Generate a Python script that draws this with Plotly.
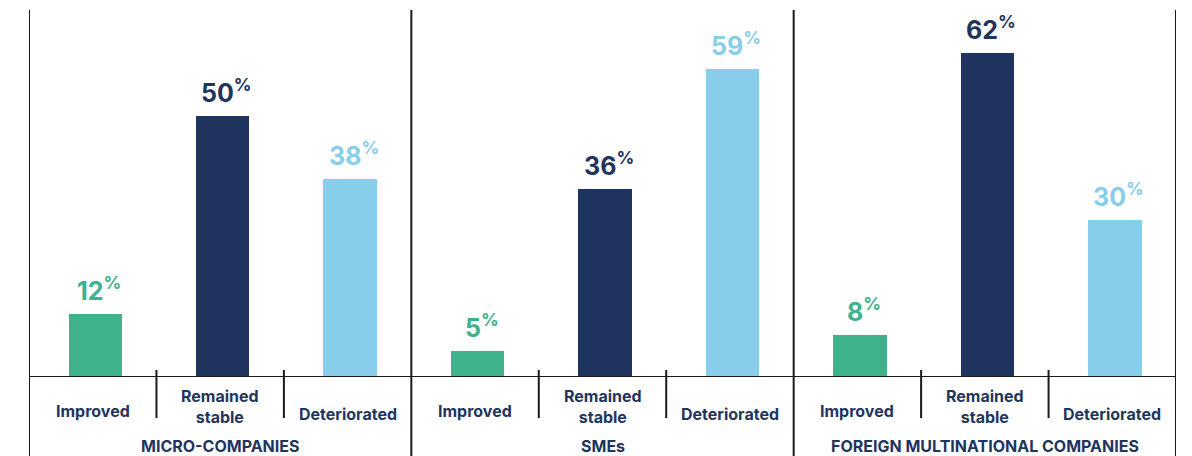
import plotly.graph_objects as go

groups = ["MICRO-COMPANIES", "SMEs", "FOREIGN MULTINATIONAL COMPANIES"]
categories = ["Improved", "Remained<br>stable", "Deteriorated"]
improved = [12, 5, 8]
stable = [50, 36, 62]
deteriorated = [38, 59, 30]

series = [improved, stable, deteriorated]
colors = ["#3db28c", "#1f3560", "#87ceea"]
navy = "#1f3560"
FONT = "Inter, Montserrat, sans-serif"

fig = go.Figure()
for ci, vals in enumerate(series):
    xs = [gi * 3 + ci + 0.52 for gi in range(len(groups))]
    fig.add_trace(go.Bar(x=xs, y=vals, width=0.42, marker=dict(color=colors[ci], line=dict(width=0)),
                         showlegend=False, hoverinfo="skip"))
    for x, v in zip(xs, vals):
        fig.add_annotation(x=x, y=v, xref="x", yref="y",
                           text=f"<b>{v}</b><sup><b>%</b></sup>",
                           showarrow=False, yanchor="bottom", yshift=6, xshift=4,
                           font=dict(family=FONT, size=25, color=colors[ci]))

cat_y = [-0.0926, -0.0817, -0.1008]
for gi, g in enumerate(groups):
    for ci, c in enumerate(categories):
        fig.add_annotation(x=gi * 3 + ci + 0.5, y=cat_y[ci], xref="x", yref="paper", text=f"<b>{c}</b>",
                           showarrow=False, yanchor="middle",
                           font=dict(family=FONT, size=16, color=navy))
    fig.add_annotation(x=gi * 3 + 1.5, y=-0.188, xref="x", yref="paper", text=f"<b>{g}</b>",
                       showarrow=False, yanchor="middle", font=dict(family=FONT, size=16, color=navy))

line_col = "#1a1a1a"
# panel borders
for xv in [0, 3, 6, 9]:
    fig.add_shape(type="line", xref="x", yref="paper", x0=xv, x1=xv, y0=-0.215, y1=1.0,
                  line=dict(color=line_col, width=2))
# inner separators
for xv in [1, 2, 4, 5, 7, 8]:
    fig.add_shape(type="line", xref="x", yref="paper", x0=xv, x1=xv, y0=0.019, y1=-0.112,
                  line=dict(color=line_col, width=2))
# baseline
fig.add_shape(type="line", xref="x", yref="y", x0=0, x1=9, y0=0, y1=0, line=dict(color=line_col, width=2))

fig.update_layout(
    width=1192, height=456, margin=dict(l=29, r=16, t=10, b=79),
    plot_bgcolor="white", paper_bgcolor="white",
    xaxis=dict(range=[0, 9], visible=False, fixedrange=True),
    yaxis=dict(range=[0, 70.3], visible=False, fixedrange=True),
    bargap=0,
)
fig.write_html("out.html")
